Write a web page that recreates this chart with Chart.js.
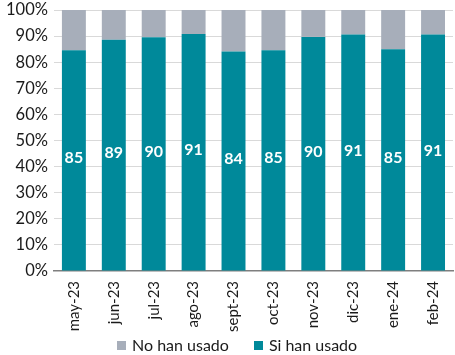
<!DOCTYPE html>
<html>
<head>
<meta charset="utf-8">
<script src="https://cdn.jsdelivr.net/npm/chart.js@4"></script>
<style>
  html, body { margin: 0; padding: 0; background: #fff; }
  #wrap { position: relative; width: 455px; height: 355px; }
  #legend {
    position: absolute; left: 117px; top: 336px;
    display: flex; align-items: center;
    font-family: Lato, sans-serif; font-size: 16px; color: #1a1a1a; line-height: 18px;
  }
  .item { display: flex; align-items: center; margin-right: 25px; }
  .box { width: 9px; height: 9px; margin-right: 6px; }
</style>
</head>
<body>
<div id="wrap">
  <canvas id="chart" width="455" height="355"></canvas>
  <div id="legend"></div>
</div>
<script>
// Meses y porcentajes
const months = ["may-23", "jun-23", "jul-23", "ago-23", "sept-23", "oct-23", "nov-23", "dic-23", "ene-24", "feb-24"];
const usedValues = [84.6, 88.6, 89.6, 90.8, 84.1, 84.6, 89.7, 90.6, 85.0, 90.6];
const notUsedValues = [15.4, 11.4, 10.4, 9.2, 15.9, 15.4, 10.3, 9.4, 15.0, 9.4];
const usedLabels = [85, 89, 90, 91, 84, 85, 90, 91, 85, 91];
const yTicks = [0, 10, 20, 30, 40, 50, 60, 70, 80, 90, 100];

const TEAL = "#00899a";
const GREY = "#a7aeba";

// Etiquetas blancas dentro de las barras
const barLabels = {
  id: "barLabels",
  afterDatasetsDraw(chart) {
    const ctx = chart.ctx;
    const meta = chart.getDatasetMeta(0);
    ctx.save();
    ctx.fillStyle = "#ffffff";
    ctx.font = "bold 16px Lato";
    ctx.textAlign = "center";
    ctx.textBaseline = "middle";
    meta.data.forEach((bar, i) => {
      ctx.fillText(String(usedLabels[i]), bar.x, (bar.y + bar.base) / 2 - 2);
    });
    ctx.restore();
  }
};

const chart = new Chart(document.getElementById("chart"), {
  type: "bar",
  data: {
    labels: months,
    datasets: [
      { label: "Si han usado", data: usedValues, backgroundColor: TEAL, barPercentage: 0.6, categoryPercentage: 1 },
      { label: "No han usado", data: notUsedValues, backgroundColor: GREY, barPercentage: 0.6, categoryPercentage: 1 }
    ]
  },
  options: {
    responsive: false,
    animation: false,
    layout: { padding: { top: 0, right: 2, left: 0, bottom: 21 } },
    scales: {
      x: {
        stacked: true,
        grid: { display: false },
        border: { color: "#7f7f7f", width: 1.5 },
        ticks: {
          color: "#1a1a1a",
          font: { family: "Lato", size: 15 },
          minRotation: 90,
          maxRotation: 90,
          padding: 2
        }
      },
      y: {
        stacked: true,
        min: 0,
        max: 100,
        afterBuildTicks(axis) {
          axis.ticks = yTicks.map(v => ({ value: v }));
        },
        afterFit(axis) {
          axis.paddingTop = 10;
        },
        grid: { color: "#d9d9d9", drawTicks: false },
        border: { display: false },
        ticks: {
          color: "#1a1a1a",
          font: { family: "Lato", size: 16.5 },
          padding: 6,
          callback: v => v + "%"
        }
      }
    },
    plugins: {
      tooltip: { enabled: false },
      legend: { display: false }
    }
  },
  plugins: [barLabels]
});

// Leyenda (gris primero, como en el original)
const legend = document.getElementById("legend");
chart.data.datasets.slice().reverse().forEach(ds => {
  const item = document.createElement("div");
  item.className = "item";
  item.innerHTML = `<span class="box" style="background:${ds.backgroundColor}"></span><span>${ds.label}</span>`;
  legend.appendChild(item);
});
</script>
</body>
</html>
